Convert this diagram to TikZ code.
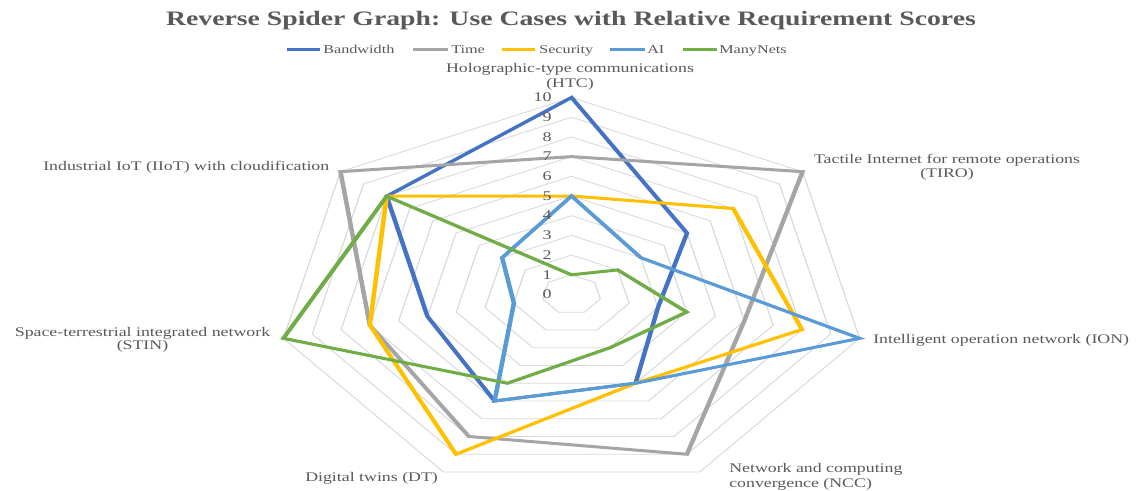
\documentclass[tikz,border=0pt]{standalone}
\usepackage{fontspec}
\setmainfont[FakeStretch=1.35]{Liberation Serif}

\definecolor{bwc}{HTML}{4472C4}
\definecolor{timec}{HTML}{A5A5A5}
\definecolor{secc}{HTML}{FFC000}
\definecolor{aic}{HTML}{5B9BD5}
\definecolor{mnc}{HTML}{70AD47}
\definecolor{ringc}{HTML}{D9D9D9}
\definecolor{txtc}{HTML}{595959}

\tikzset{
  ringline/.style={draw=ringc, line width=0.6pt},
  serline/.style={line width=2.25pt, line join=miter},
  titlef/.style={text=txtc, inner sep=0pt, font=\fontsize{15.4}{18}\selectfont\bfseries},
  legf/.style={text=txtc, inner sep=0pt, font=\fontsize{9}{11}\selectfont},
  lblf/.style={text=txtc, inner sep=0pt, font=\fontsize{9.9}{12}\selectfont},
  tickf/.style={text=txtc, inner sep=0pt, anchor=base east, font=\fontsize{10}{12}\selectfont},
}

\begin{document}
\begin{tikzpicture}[x=0.75pt, y=-0.75pt]
\useasboundingbox[fill=white] (0,0) rectangle (1140,490);

% radar body: drawn round its centre, one unit per score step
\begin{scope}[transform canvas={xscale=1.5}, shift={(381,294.5)}, x=14.775pt, y=-14.775pt]
  \foreach \r in {1,...,10} {
    \draw[ringline] (-90:\r) \foreach \k in {1,...,6} { -- (-90+51.4286*\k:\r) } -- cycle;
  }
  % series, axes in order HTC, TIRO, ION, NCC, DT, STIN, IIoT
  \draw[serline, bwc]   (-90:10) -- (-38.571:5)  -- (12.857:3)  -- (64.286:5) -- (115.714:6) -- (167.143:5)  -- (218.571:8)  -- cycle;
  \draw[serline, timec] (-90:7)  -- (-38.571:10) -- (12.857:6)  -- (64.286:9) -- (115.714:8) -- (167.143:7)  -- (218.571:10) -- cycle;
  \draw[serline, secc]  (-90:5)  -- (-38.571:7)  -- (12.857:8)  -- (64.286:5) -- (115.714:9) -- (167.143:7)  -- (218.571:8)  -- cycle;
  \draw[serline, aic]   (-90:5)  -- (-38.571:3)  -- (12.857:10) -- (64.286:5) -- (115.714:6) -- (167.143:2)  -- (218.571:3)  -- cycle;
  \draw[serline, mnc]   (-90:1)  -- (-38.571:2)  -- (12.857:4)  -- (64.286:3) -- (115.714:5) -- (167.143:10) -- (218.571:8)  -- cycle;
\end{scope}

% title
\node[titlef, anchor=base] (title) at (571,25) {Reverse Spider Graph: Use Cases with Relative Requirement Scores};

% legend
\draw[serline, bwc]   (287,49) -- (320,49);
\node[legf, anchor=base west] (lgbw) at (323,53) {Bandwidth};
\draw[serline, timec] (413,49) -- (448,49);
\node[legf, anchor=base west] (lgtime) at (451,53) {Time};
\draw[serline, secc]  (502,49) -- (535,49);
\node[legf, anchor=base west] (lgsec) at (539,53) {Security};
\draw[serline, aic]   (610,49) -- (645,49);
\node[legf, anchor=base west] (lgai) at (647,53) {AI};
\draw[serline, mnc]   (683,49) -- (717,49);
\node[legf, anchor=base west] (lgmn) at (719,53) {ManyNets};

% category labels
\node[lblf, anchor=base] (htc1) at (570,72.5) {Holographic-type communications};
\node[lblf, anchor=base] (htc2) at (570,87) {(HTC)};
\node[lblf, anchor=base] (tiro1) at (947,163) {Tactile Internet for remote operations};
\node[lblf, anchor=base] (tiro2) at (947,177.5) {(TIRO)};
\node[lblf, anchor=base west] (ion) at (873,343) {Intelligent operation network (ION)};
\node[lblf, anchor=base west] (ncc1) at (729,472.5) {Network and computing};
\node[lblf, anchor=base west] (ncc2) at (729,487) {convergence (NCC)};
\node[lblf, anchor=base west] (dt) at (305,481) {Digital twins (DT)};
\node[lblf, anchor=base] (stin1) at (142.5,336) {Space-terrestrial integrated network};
\node[lblf, anchor=base] (stin2) at (142.5,349) {(STIN)};
\node[lblf, anchor=base west] (iiot) at (43,170) {Industrial IoT (IIoT) with cloudification};

% value scale along the top axis
\foreach \v in {0,...,10} {
  \node[tickf] (tick\v) at (552,{294.5-19.7*\v+4.2}) {\v};
}
\end{tikzpicture}
\end{document}
